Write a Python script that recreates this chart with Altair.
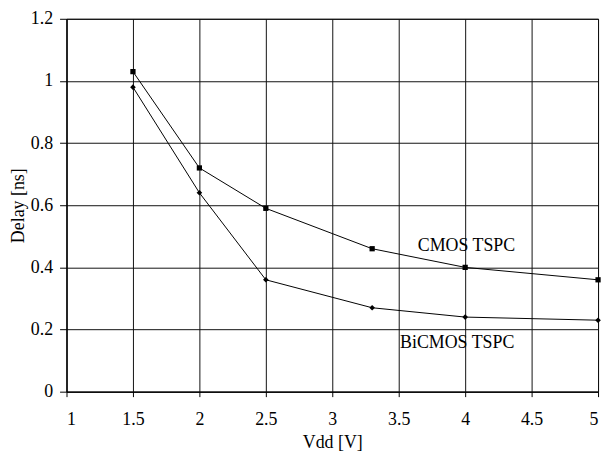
import altair as alt
import pandas as pd

vdd = [1.5, 2.0, 2.5, 3.3, 4.0, 5.0]
cmos_delay = [1.03, 0.72, 0.59, 0.46, 0.40, 0.36]
bicmos_delay = [0.98, 0.64, 0.36, 0.27, 0.24, 0.23]

label_text = ["CMOS TSPC", "BiCMOS TSPC"]
label_x = [4.01, 3.94]
label_y = [0.47, 0.155]

x_ticks = [1, 1.5, 2, 2.5, 3, 3.5, 4, 4.5, 5]
y_ticks = [0, 0.2, 0.4, 0.6, 0.8, 1.0, 1.2]

FONT = "'Liberation Serif', 'Times New Roman', Times, serif"

df = pd.DataFrame(
    {"Vdd": vdd * 2,
     "Delay": cmos_delay + bicmos_delay,
     "Series": ["CMOS TSPC"] * len(vdd) + ["BiCMOS TSPC"] * len(vdd)}
)
lab = pd.DataFrame({"text": label_text, "x": label_x, "y": label_y})

xs = alt.Scale(domain=[1, 5], nice=False, zero=False)
ys = alt.Scale(domain=[0, 1.2], nice=False)

xaxis = alt.Axis(values=x_ticks, format="~g", title="Vdd [V]", grid=True,
                 gridColor="#111", gridWidth=1, domainColor="#000", tickColor="#000",
                 tickSize=5, labelPadding=14, titlePadding=5, labelFontSize=18,
                 titleFontSize=18, titleFontWeight="normal", labelFont=FONT, titleFont=FONT,
                 labelColor="#000", titleColor="#000")
yaxis = alt.Axis(values=y_ticks, format="~g", title="Delay [ns]", grid=True,
                 gridColor="#111", gridWidth=1, domainColor="#000", tickColor="#000",
                 tickSize=7, labelPadding=7, titlePadding=3, labelFontSize=18,
                 titleFontSize=18, titleFontWeight="normal", labelFont=FONT, titleFont=FONT,
                 labelColor="#000", titleColor="#000")

base = alt.Chart(df).encode(
    x=alt.X("Vdd:Q", scale=xs, axis=xaxis),
    y=alt.Y("Delay:Q", scale=ys, axis=yaxis),
    detail="Series:N",
)

lines = base.mark_line(color="#000", strokeWidth=1)
pts = base.mark_point(filled=True, color="#000", opacity=1).encode(
    shape=alt.Shape("Series:N",
                    scale=alt.Scale(domain=["CMOS TSPC", "BiCMOS TSPC"], range=["square", "diamond"]),
                    legend=None),
    size=alt.Size("Series:N",
                  scale=alt.Scale(domain=["CMOS TSPC", "BiCMOS TSPC"], range=[28, 32]),
                  legend=None),
)
texts = alt.Chart(lab).mark_text(font=FONT, fontSize=18, color="#000").encode(
    x=alt.X("x:Q", scale=xs), y=alt.Y("y:Q", scale=ys), text="text:N"
)

chart = alt.layer(lines, pts, texts).properties(
    width=536, height=376,
    autosize=alt.AutoSizeParams(type="none"),
    padding={"left": 59, "top": 9, "right": 6, "bottom": 63},
    background="white",
).configure_view(stroke="#000", strokeWidth=1)

chart.save("out.html", embed_options={"renderer": "svg", "actions": False})
